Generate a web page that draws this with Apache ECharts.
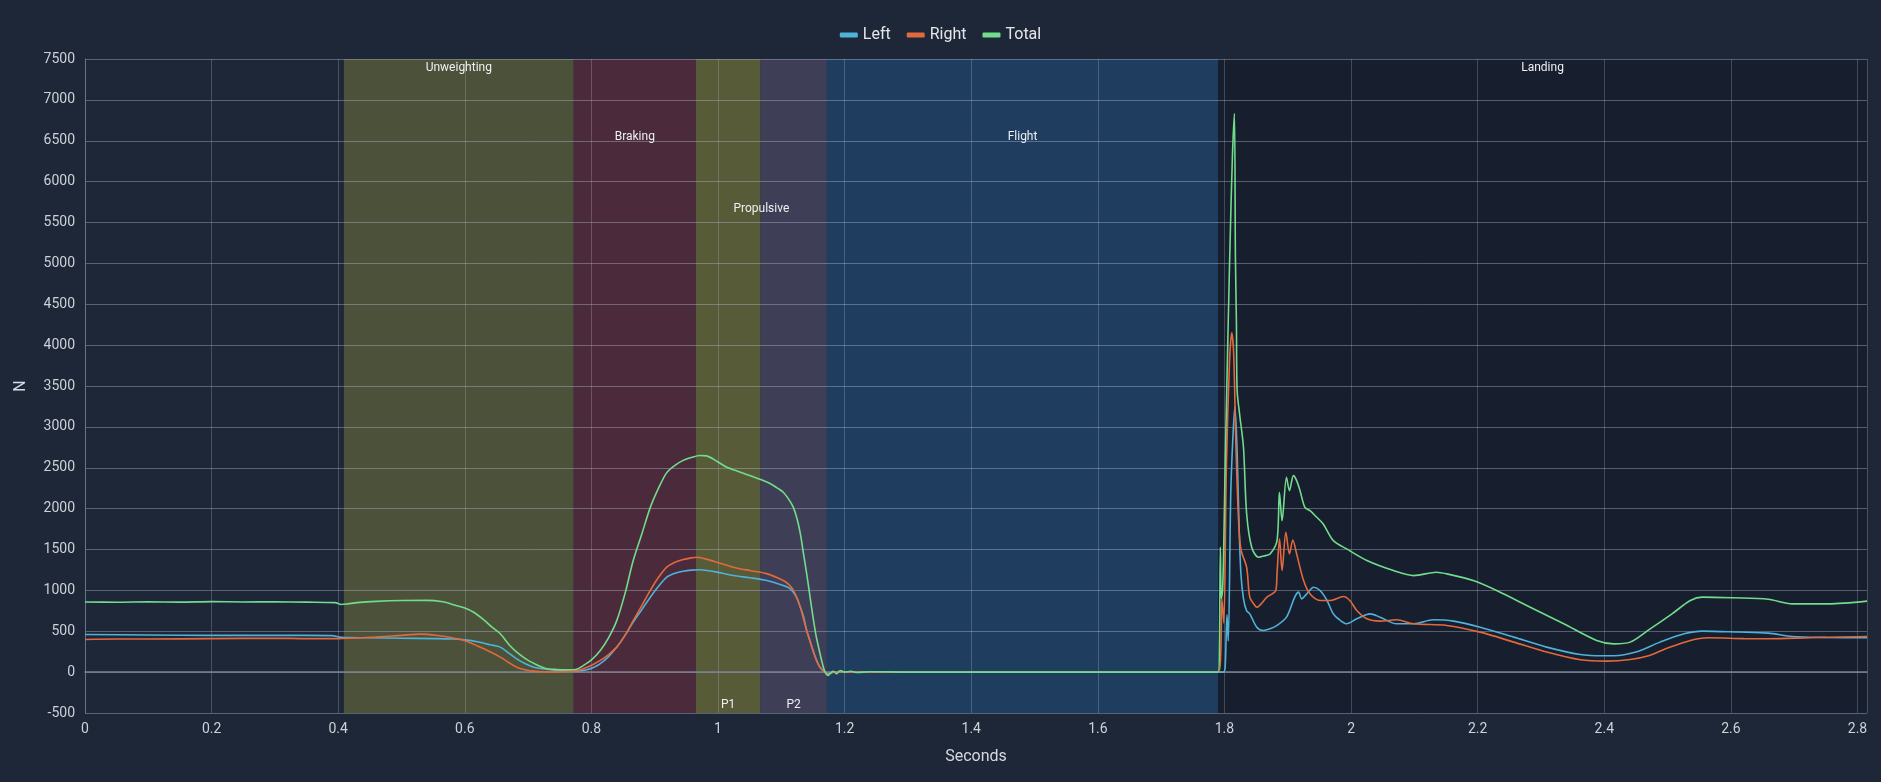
<!DOCTYPE html>
<html>
<head>
<meta charset="utf-8">
<title>Jump force</title>
<script src="https://cdn.jsdelivr.net/npm/echarts@6/dist/echarts.min.js"></script>
<style>
  html, body { margin: 0; padding: 0; background: #1e2738; }
  #chart { width: 1881px; height: 782px; }
</style>
</head>
<body>
<div id="chart"></div>
<script>
// phases of the jump (seconds)
const phaseNames = ['Unweighting', 'Braking', 'P1', 'P2', 'Flight', 'Landing'];
const phaseStart = [0.409, 0.772, 0.965, 1.067, 1.172, 1.79];
const phaseEnd = [0.772, 0.965, 1.067, 1.172, 1.79, 2.815];
const propulsiveSpan = [0.965, 1.172];

// [seconds, newtons]
const leftForce = [
  [0, 460], [0.1, 455], [0.2, 450], [0.3, 450], [0.39, 447], [0.405, 425], [0.45, 420], [0.5, 415],
  [0.55, 410], [0.58, 405], [0.6, 395], [0.62, 372], [0.64, 335], [0.656, 306], [0.67, 230], [0.682, 163],
  [0.695, 105], [0.708, 64], [0.722, 42], [0.735, 30], [0.75, 18], [0.771, 10], [0.783, 18], [0.793, 30],
  [0.804, 60], [0.814, 104], [0.827, 190], [0.84, 306], [0.853, 450], [0.866, 612], [0.88, 770], [0.893, 917],
  [0.906, 1050], [0.919, 1162], [0.932, 1210], [0.945, 1235], [0.958, 1248], [0.971, 1252], [0.985, 1240],
  [0.998, 1223], [1.024, 1182], [1.05, 1154], [1.077, 1121], [1.103, 1060], [1.112, 1030], [1.119, 978],
  [1.125, 900], [1.13, 795], [1.135, 680], [1.14, 510], [1.145, 390], [1.15, 265], [1.155, 160], [1.161, 60],
  [1.169, 0], [1.174, -20], [1.182, 0], [1.19, 5], [1.2, 0], [1.5, 0], [1.79, 0], [1.798, 0], [1.801, 50],
  [1.804, 700], [1.806, 380], [1.81, 2200], [1.8135, 2900], [1.8165, 3250], [1.82, 2700], [1.823, 1800],
  [1.826, 1200], [1.83, 900], [1.835, 750], [1.84, 713], [1.851, 550], [1.861, 510], [1.872, 530],
  [1.883, 571], [1.898, 672], [1.911, 917], [1.917, 978], [1.922, 896], [1.93, 958], [1.941, 1039],
  [1.951, 998], [1.962, 876], [1.972, 713], [1.983, 632], [1.993, 591], [2.009, 652], [2.03, 713],
  [2.046, 672], [2.072, 591], [2.099, 591], [2.13, 640], [2.162, 624], [2.204, 550], [2.257, 428],
  [2.309, 306], [2.362, 216], [2.398, 200], [2.415, 200], [2.45, 245], [2.488, 367], [2.526, 469],
  [2.555, 502], [2.612, 490], [2.659, 477], [2.697, 436], [2.75, 425], [2.815, 420]
];

const rightForce = [
  [0, 400], [0.05, 405], [0.1, 405], [0.2, 410], [0.3, 415], [0.35, 410], [0.4, 410], [0.45, 425],
  [0.5, 450], [0.53, 465], [0.56, 445], [0.58, 420], [0.6, 385], [0.62, 320], [0.64, 250], [0.656, 184],
  [0.67, 115], [0.682, 60], [0.695, 30], [0.708, 12], [0.735, 0], [0.771, 10], [0.783, 30], [0.793, 60],
  [0.804, 100], [0.814, 143], [0.827, 215], [0.84, 306], [0.853, 450], [0.866, 630], [0.88, 820],
  [0.893, 1000], [0.906, 1160], [0.919, 1285], [0.932, 1345], [0.945, 1378], [0.958, 1398], [0.966, 1406],
  [0.98, 1385], [0.998, 1345], [1.024, 1284], [1.05, 1243], [1.077, 1205], [1.103, 1121], [1.112, 1070],
  [1.119, 1000], [1.125, 900], [1.13, 795], [1.135, 650], [1.14, 510], [1.145, 385], [1.15, 265],
  [1.155, 150], [1.161, 60], [1.169, 0], [1.174, -25], [1.182, 0], [1.19, 5], [1.2, 0], [1.5, 0],
  [1.79, 0], [1.794, 200], [1.796, 900], [1.799, 600], [1.803, 2500], [1.808, 3800], [1.8115, 4150],
  [1.8145, 3900], [1.818, 2800], [1.822, 1900], [1.826, 1500], [1.835, 1283], [1.84, 917], [1.848, 815],
  [1.851, 795], [1.867, 917], [1.881, 998], [1.883, 1202], [1.887, 1630], [1.891, 1242], [1.897, 1711],
  [1.9026, 1446], [1.908, 1617], [1.914, 1446], [1.925, 1120], [1.935, 958], [1.951, 876], [1.967, 876],
  [1.988, 925], [1.998, 876], [2.009, 754], [2.025, 652], [2.046, 624], [2.072, 640], [2.099, 591],
  [2.151, 571], [2.204, 489], [2.257, 367], [2.309, 245], [2.362, 151], [2.404, 135], [2.441, 155],
  [2.47, 200], [2.497, 286], [2.536, 388], [2.564, 420], [2.62, 410], [2.659, 408], [2.725, 420], [2.815, 436]
];

const totalForce = [
  [0, 858], [0.05, 855], [0.1, 860], [0.15, 856], [0.2, 862], [0.25, 858], [0.3, 860], [0.35, 856],
  [0.395, 850], [0.405, 828], [0.415, 835], [0.43, 850], [0.46, 865], [0.5, 876], [0.54, 878], [0.565, 860],
  [0.586, 815], [0.6, 785], [0.614, 733], [0.63, 640], [0.643, 550], [0.656, 470], [0.671, 326], [0.685, 225],
  [0.7, 143], [0.715, 85], [0.728, 45], [0.745, 32], [0.762, 29], [0.775, 32], [0.787, 80], [0.8, 150],
  [0.814, 265], [0.827, 420], [0.84, 630], [0.853, 960], [0.866, 1365], [0.88, 1700], [0.893, 2015],
  [0.906, 2250], [0.919, 2440], [0.932, 2530], [0.945, 2590], [0.958, 2625], [0.971, 2650], [0.982, 2645],
  [0.998, 2580], [1.014, 2505], [1.03, 2460], [1.05, 2405], [1.077, 2325], [1.09, 2270], [1.103, 2200],
  [1.112, 2110], [1.119, 2015], [1.125, 1870], [1.13, 1695], [1.135, 1450], [1.14, 1205], [1.145, 940],
  [1.15, 675], [1.155, 440], [1.161, 230], [1.165, 100], [1.169, 0], [1.174, -40], [1.178, -10],
  [1.182, 10], [1.187, -20], [1.193, 20], [1.2, 0], [1.21, 10], [1.22, -5], [1.24, 5], [1.3, 0],
  [1.5, 0], [1.79, 0], [1.792, 300], [1.7935, 1530], [1.795, 900], [1.797, 1000], [1.799, 1600],
  [1.801, 2500], [1.8036, 3444], [1.806, 4300], [1.809, 5300], [1.8126, 6316], [1.8157, 6834],
  [1.8173, 5073], [1.8189, 4262], [1.82, 3444], [1.824, 3150], [1.83, 2750], [1.835, 1940], [1.843, 1527],
  [1.8536, 1406], [1.862, 1420], [1.872, 1446], [1.883, 1609], [1.8868, 2200], [1.891, 1853], [1.898, 2383],
  [1.9026, 2220], [1.909, 2404], [1.914, 2343], [1.9194, 2220], [1.927, 2016], [1.9352, 1975], [1.945, 1900],
  [1.956, 1812], [1.972, 1609], [1.993, 1507], [2.025, 1365], [2.067, 1242], [2.099, 1181], [2.135, 1222],
  [2.151, 1202], [2.193, 1120], [2.23, 998], [2.283, 794], [2.336, 591], [2.388, 387], [2.415, 346],
  [2.441, 367], [2.469, 510], [2.507, 713], [2.536, 876], [2.555, 917], [2.602, 909], [2.659, 892],
  [2.697, 835], [2.754, 835], [2.815, 868]
];

// band look, keyed by phase name
const phaseStyle = {
  Unweighting: { color: '#4c5239', pos: 'insideTop', dist: 3 },
  Braking: { color: '#4b2b3b', pos: 'insideTop', dist: 72 },
  P1: { color: '#585b37', pos: 'insideBottom', dist: 2 },
  P2: { color: '#3e3f56', pos: 'insideBottom', dist: 2 },
  Flight: { color: '#1f3d5f', pos: 'insideTop', dist: 72 },
  Landing: { color: '#171e2d', pos: 'insideTop', dist: 3 }
};

const chart = echarts.init(document.getElementById('chart'));

const bands = phaseNames.map((name, i) => {
  const st = phaseStyle[name];
  return [
    {
      name,
      xAxis: phaseStart[i],
      itemStyle: { color: st.color },
      label: { position: st.pos, distance: st.dist }
    },
    { xAxis: phaseEnd[i] }
  ];
});
bands.push([
  {
    name: 'Propulsive',
    xAxis: propulsiveSpan[0],
    itemStyle: { color: 'rgba(0,0,0,0)' },
    label: { position: 'insideTop', distance: 144 }
  },
  { xAxis: propulsiveSpan[1] }
]);

const lineSeries = (name, data, color) => ({
  name,
  type: 'line',
  data,
  z: 3,
  showSymbol: false,
  smooth: 0.3,
  lineStyle: { color, width: 1.6 },
  itemStyle: { color }
});

const gridLine = 'rgba(180,190,210,0.4)';

chart.setOption({
  backgroundColor: '#1e2738',
  animation: false,
  textStyle: { fontFamily: 'Roboto, sans-serif' },
  legend: {
    top: 22,
    left: 'center',
    icon: 'roundRect',
    itemWidth: 18,
    itemHeight: 5,
    itemGap: 16,
    textStyle: { color: '#e4e6ea', fontSize: 16 },
    data: ['Left', 'Right', 'Total']
  },
  grid: { left: 85, right: 14, top: 59, bottom: 69 },
  xAxis: {
    type: 'value',
    min: 0,
    max: 2.815,
    interval: 0.2,
    z: 2,
    name: 'Seconds',
    nameLocation: 'middle',
    nameGap: 36,
    nameTextStyle: { color: '#d6d9df', fontSize: 16 },
    axisLine: { lineStyle: { color: '#7a8294', width: 1.5 } },
    axisTick: { show: false },
    axisLabel: { color: '#cdd1d8', fontSize: 14, margin: 9, showMaxLabel: false },
    splitLine: { show: true, lineStyle: { color: 'rgba(180,190,210,0.28)' } }
  },
  yAxis: {
    type: 'value',
    min: -500,
    max: 7500,
    interval: 500,
    z: 2,
    name: 'N',
    nameLocation: 'middle',
    nameGap: 56,
    nameTextStyle: { color: '#d6d9df', fontSize: 16 },
    axisLine: { show: true, lineStyle: { color: '#6b7386' } },
    axisTick: { show: false },
    axisLabel: { color: '#cdd1d8', fontSize: 14, margin: 10, formatter: v => String(v) },
    splitLine: { show: true, lineStyle: { color: gridLine } }
  },
  series: [
    {
      name: 'phases',
      type: 'line',
      data: [],
      z: 1,
      markArea: {
        silent: true,
        label: { color: '#eef0f2', fontSize: 12 },
        data: bands
      }
    },
    lineSeries('Left', leftForce, '#4fb2da'),
    lineSeries('Right', rightForce, '#e2693d'),
    lineSeries('Total', totalForce, '#72dc8c')
  ]
});
</script>
</body>
</html>
